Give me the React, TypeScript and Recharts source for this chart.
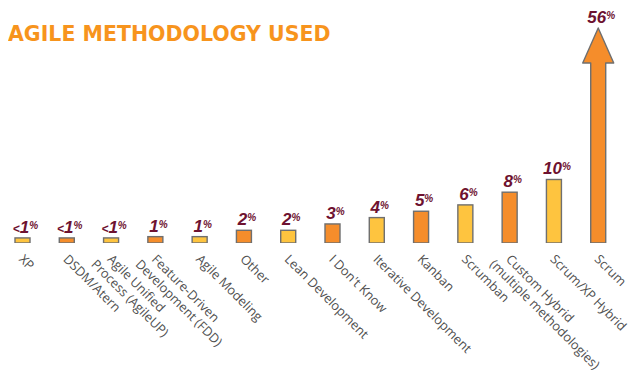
import React from "react";
import { BarChart, Bar, XAxis, YAxis, Cell, LabelList } from "recharts";

const categories = [
  "XP",
  "DSDM/Atern",
  "Agile Unified\nProcess (AgileUP)",
  "Feature-Driven\nDevelopment (FDD)",
  "Agile Modeling",
  "Other",
  "Lean Development",
  "I Don't Know",
  "Iterative Development",
  "Kanban",
  "Scrumban",
  "Custom Hybrid\n(multiple methodologies)",
  "Scrum/XP Hybrid",
  "Scrum",
];
const shares = [0.8, 0.8, 0.8, 1, 1, 2, 2, 3, 4, 5, 6, 8, 10, 56];
const shareLabels = ["<1", "<1", "<1", "1", "1", "2", "2", "3", "4", "5", "6", "8", "10", "56"];

const data = categories.map((name, i) => ({
  name,
  share: shares[i],
  label: shareLabels[i],
}));

const Y_MAX = 37;
const TOP = 8;
const ARROW_TIP = 28;
const YELLOW = "#FEC43F";
const ORANGE = "#F58D2B";
const STROKE = "#6f6f6f";
const LABEL = "#6E1230";

function BarShape(props: any) {
  const { x, y, width, height, fill, payload } = props;
  const bottom = y + height;
  if (payload.share > Y_MAX) {
    // broken-scale arrow for the overflowing bar
    const cx = x + width / 2;
    const headY = ARROW_TIP + 35;
    const d = `M${x},${bottom} L${x},${headY} L${cx - 15.5},${headY} L${cx},${ARROW_TIP} L${cx + 15.5},${headY} L${x + width},${headY} L${x + width},${bottom} Z`;
    return <path d={d} fill={fill} stroke={STROKE} strokeWidth={1.4} strokeLinejoin="round" />;
  }
  return <rect x={x} y={y} width={width} height={height} fill={fill} stroke={STROKE} strokeWidth={1.4} />;
}

function ShareLabel(props: any) {
  const { x, y, width, value } = props;
  const top = Math.max(y, ARROW_TIP);
  const cx = x + width / 2 + 3;
  const small = value.startsWith("<");
  const num = small ? value.slice(1) : value;
  return (
    <text
      x={cx}
      y={top - 5}
      textAnchor="middle"
      fill={LABEL}
      fontFamily="'Liberation Sans', Arial, sans-serif"
      fontStyle="italic"
      fontWeight="bold"
      fontSize={17}
    >
      {small && <tspan fontSize={12}>&lt;</tspan>}
      <tspan>{num}</tspan>
      <tspan fontSize={10} dy={-4}>%</tspan>
    </text>
  );
}

function CategoryTick(props: any) {
  const { x, y, payload } = props;
  const lines = String(payload.value).split("\n");
  return (
    <g transform={`translate(${x - 4},${y + 17}) rotate(45)`}>
      <text
        x={0}
        y={0}
        textAnchor="start"
        fill="#4f4f4f"
        fontFamily="'Open Sans', sans-serif"
        fontSize={12.8}
      >
        {lines.map((line, i) => (
          <tspan key={i} x={i === 0 ? 0 : -8} y={i * 15}>
            {line}
          </tspan>
        ))}
      </text>
    </g>
  );
}

export default function App() {
  return (
    <div style={{ position: "relative", width: 640, height: 381, margin: -8, background: "#fff" }}>
      <div
        style={{
          position: "absolute",
          left: 8,
          top: 22,
          fontFamily: "'DejaVu Sans', sans-serif",
          fontWeight: "bold",
          fontSize: 20.5,
          lineHeight: "24px",
          color: "#F7941D",
          whiteSpace: "nowrap",
        }}
      >
        AGILE METHODOLOGY USED
      </div>
      <BarChart
        width={640}
        height={381}
        data={data}
        margin={{ top: TOP, right: 20, left: 0, bottom: 0 }}
      >
        <XAxis
          dataKey="name"
          interval={0}
          tickLine={false}
          axisLine={false}
          tickSize={0}
          tickMargin={0}
          height={138}
          tick={<CategoryTick />}
        />
        <YAxis hide domain={[0, Y_MAX]} allowDataOverflow width={0} />
        <Bar dataKey="share" barSize={15} isAnimationActive={false} shape={<BarShape />}>
          {data.map((d, i) => (
            <Cell key={d.name} fill={i % 2 === 0 ? YELLOW : ORANGE} />
          ))}
          <LabelList dataKey="label" content={<ShareLabel />} />
        </Bar>
      </BarChart>
    </div>
  );
}
